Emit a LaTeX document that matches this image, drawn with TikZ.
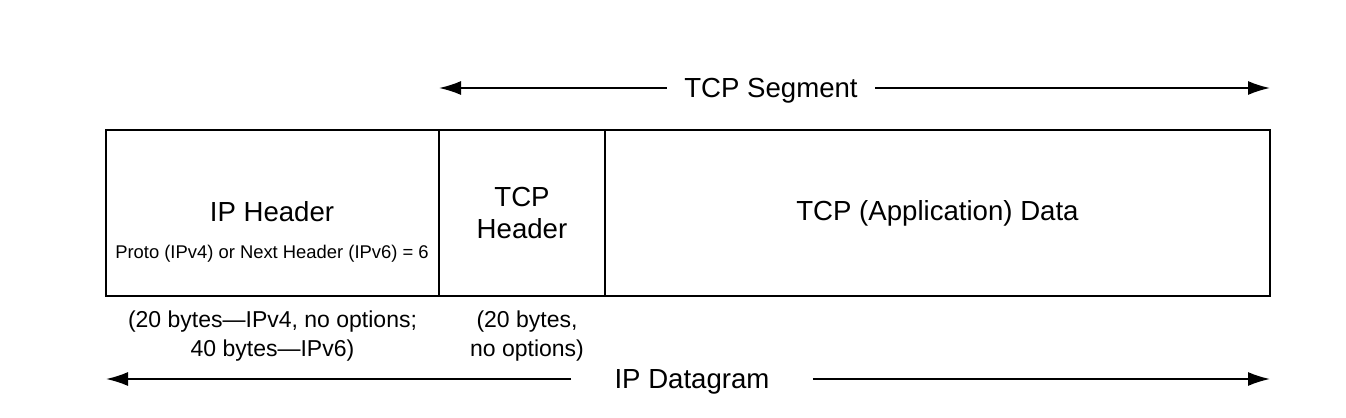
\documentclass[tikz,border=0pt]{standalone}
\usepackage{fontspec}
\setmainfont{Liberation Sans}
\usetikzlibrary{arrows.meta}
\usetikzlibrary{positioning}

\begin{document}
\begin{tikzpicture}[x=0.5pt,y=-0.5pt,
    field/.style={draw, line width=0.9pt, minimum height=83pt, inner sep=0pt, outer sep=0pt},
    big/.style={font=\fontsize{13.8}{16}\selectfont, align=center, inner sep=0pt},
    note/.style={font=\fontsize{11.5}{14.5}\selectfont, align=center, inner sep=0pt},
    span/.style={line width=0.9pt, -{Latex[length=11pt,width=7pt]}}]
    \useasboundingbox (0,0) rectangle (1346,418);

    % the three fields of the datagram
    \node[field, minimum width=166.5pt, anchor=north west] (iphdr) at (106,130) {};
    \node[field, minimum width=83pt, right=0pt of iphdr] (tcphdr) {};
    \node[field, minimum width=332.5pt, right=0pt of tcphdr] (data) {};

    \node[big] (iptext) at (272,212) {IP Header};
    \node[font=\fontsize{9.2}{11}\selectfont, inner sep=0pt] (proto) at (272,254) {Proto (IPv4) or Next Header (IPv6) = 6};
    \node[big] (tcptext) at (tcphdr.center) {TCP\\Header};
    \node[big] (datatext) at (data.center) {TCP (Application) Data};

    % sizes
    \node[note, below=7pt of iphdr] (ipsize) {(20 bytes---IPv4, no options;\\40 bytes---IPv6)};
    \node[note, below=7pt of tcphdr, xshift=2.5pt] (tcpsize) {(20 bytes,\\no options)};

    % spans
    \node[big, inner xsep=8.5pt, text depth=0pt] (seg) at (771,88) {TCP Segment};
    \coordinate (segL) at (iphdr.north east |- seg.west);
    \coordinate (segR) at (data.north east |- seg.east);
    \draw[span] (seg.west) -- (segL);
    \draw[span] (seg.east) -- (segR);

    \node[big, inner xsep=21.5pt, text depth=0pt] (dgram) at (692,379) {IP Datagram};
    \coordinate (dgramL) at (iphdr.south west |- dgram.west);
    \coordinate (dgramR) at (data.south east |- dgram.east);
    \draw[span] (dgram.west) -- (dgramL);
    \draw[span] (dgram.east) -- (dgramR);
  \end{tikzpicture}
\end{document}
